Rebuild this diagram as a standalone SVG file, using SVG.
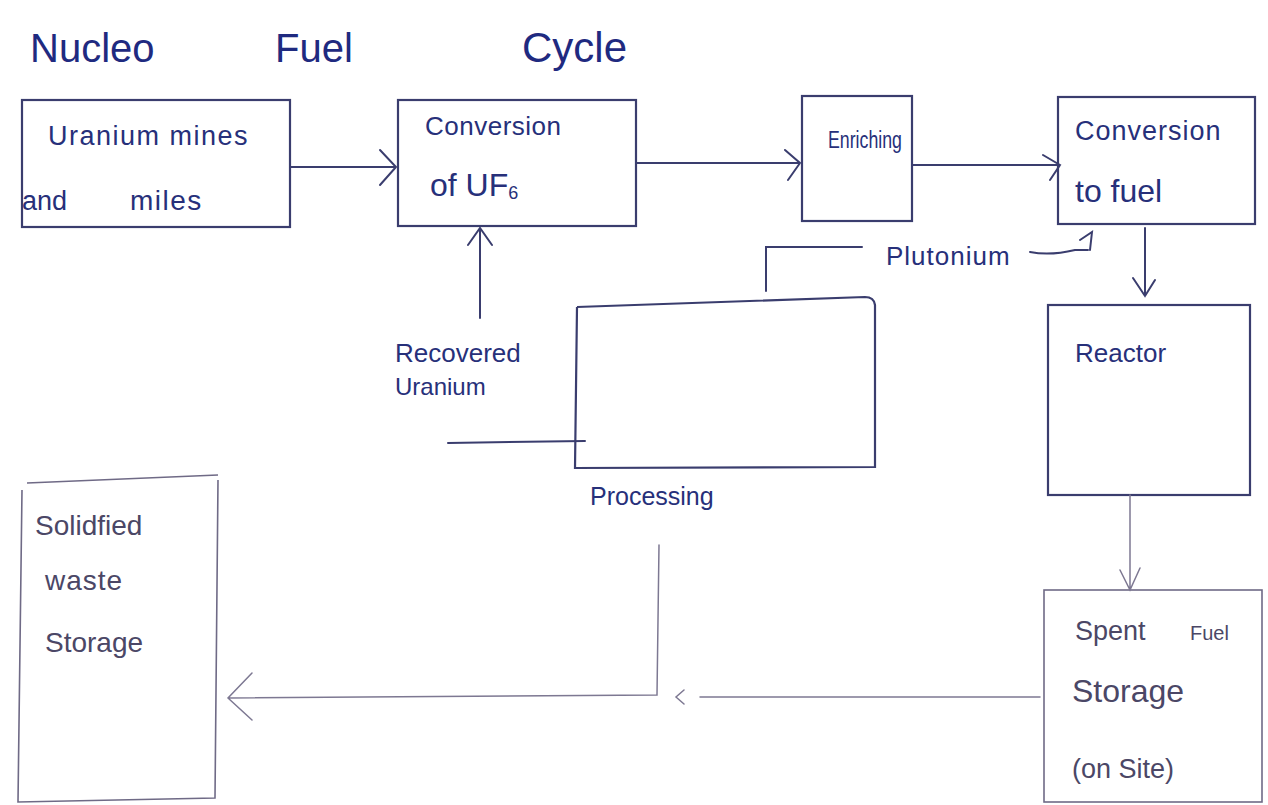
<svg xmlns="http://www.w3.org/2000/svg" width="1268" height="805" viewBox="0 0 1268 805">
<style>
  .bx{fill:none;stroke:#3a3d6e;stroke-width:2.2}
  .bxl{fill:none;stroke:#6f6a86;stroke-width:1.6}
  .ln{fill:none;stroke:#3a3d6e;stroke-width:2;stroke-linecap:round}
  .lnl{fill:none;stroke:#7d7892;stroke-width:1.5;stroke-linecap:round}
  .t{font-family:"Liberation Sans","DejaVu Sans",sans-serif;fill:#27307a;font-size:25px}
  .tl{font-family:"Liberation Sans","DejaVu Sans",sans-serif;fill:#4b4766;font-size:25px}
  .title{font-family:"Liberation Sans","DejaVu Sans",sans-serif;fill:#1f2a80;font-size:40px}
</style>
<rect width="1268" height="805" fill="#ffffff"/>
<g id="title">
  <text class="title" x="30" y="62">Nucleo</text>
  <text class="title" x="275" y="62">Fuel</text>
  <text class="title" x="522" y="62" style="font-size:42px">Cycle</text>
</g>
<g id="mines">
  <rect class="bx" x="22" y="100" width="268" height="127"/>
  <text class="t" x="48" y="145" style="font-size:27px;letter-spacing:1.5px">Uranium mines</text>
  <text class="t" x="22" y="210" style="font-size:27px">and</text>
  <text class="t" x="130" y="210" style="font-size:28px;letter-spacing:1.5px">miles</text>
</g>
<g id="conversion-uf6">
  <rect class="bx" x="398" y="100" width="238" height="126"/>
  <text class="t" x="425" y="135" style="font-size:26px;letter-spacing:0.5px">Conversion</text>
  <text class="t" x="430" y="196" style="font-size:32px">of UF<tspan style="font-size:18px" dy="3">6</tspan></text>
</g>
<g id="enriching">
  <rect class="bx" x="802" y="96" width="110" height="125"/>
  <text class="t" x="828" y="148" style="font-size:23px" textLength="74" lengthAdjust="spacingAndGlyphs">Enriching</text>
</g>
<g id="conversion-fuel">
  <rect class="bx" x="1058" y="97" width="197" height="127"/>
  <text class="t" x="1075" y="140" style="font-size:27px;letter-spacing:1px">Conversion</text>
  <text class="t" x="1075" y="202" style="font-size:32px">to fuel</text>
</g>
<g id="reactor">
  <rect class="bx" x="1048" y="305" width="202" height="190"/>
  <text class="t" x="1075" y="362" style="font-size:26px">Reactor</text>
</g>
<g id="processing">
  <path class="bx" d="M577,307 L575,468 L875,467 L875,305 Q874,297 865,297 L577,307"/>
  <text class="t" x="590" y="505">Processing</text>
</g>
<g id="recovered">
  <text class="t" x="395" y="362" style="font-size:26px">Recovered</text>
  <text class="t" x="395" y="395" style="font-size:24px">Uranium</text>
</g>
<g id="spent-fuel">
  <rect class="bxl" x="1044" y="590" width="218" height="212"/>
  <text class="tl" x="1075" y="640" style="font-size:27px">Spent</text>
  <text class="tl" x="1190" y="640" style="font-size:20px">Fuel</text>
  <text class="tl" x="1072" y="702" style="font-size:32px">Storage</text>
  <text class="tl" x="1072" y="778" style="font-size:27px">(on Site)</text>
</g>
<g id="solidified-waste">
  <path class="bxl" d="M27,483 L218,475 M22,490 L18,802 L215,798 L218,480"/>
  <text class="tl" x="35" y="535" style="font-size:28px">Solidfied</text>
  <text class="tl" x="45" y="590" style="font-size:28px;letter-spacing:1px">waste</text>
  <text class="tl" x="45" y="652" style="font-size:28px">Storage</text>
</g>
<g id="connectors">
  <path class="ln" d="M290,167 L396,167 M380,150 L396,167 L380,185"/>
  <path class="ln" d="M636,163 L800,163 M785,150 L800,163 L788,180"/>
  <path class="ln" d="M912,165 L1060,165 M1043,155 L1060,165 L1050,180"/>
  <path class="ln" d="M480,318 L480,228 M468,245 L480,228 L492,245"/>
  <path class="ln" d="M448,443 L585,441"/>
  <path class="ln" d="M766,291 L766,247 L862,247"/>
  <text class="t" x="886" y="265" style="font-size:26px;letter-spacing:1px">Plutonium</text>
  <path class="ln" d="M1030,252 Q1050,256 1075,250 L1088,250 M1080,240 L1092,232 L1090,250"/>
  <path class="ln" d="M1145,228 L1145,296 M1133,278 L1145,296 L1155,280"/>
  <path class="lnl" d="M1130,495 L1130,590 M1120,570 L1130,590 L1140,568"/>
  <path class="lnl" d="M1040,697 L700,697 M684,690 L676,697 L684,704"/>
  <path class="lnl" d="M659,545 L657,695 L228,698 M252,673 L228,698 L252,720"/>
</g>
</svg>
